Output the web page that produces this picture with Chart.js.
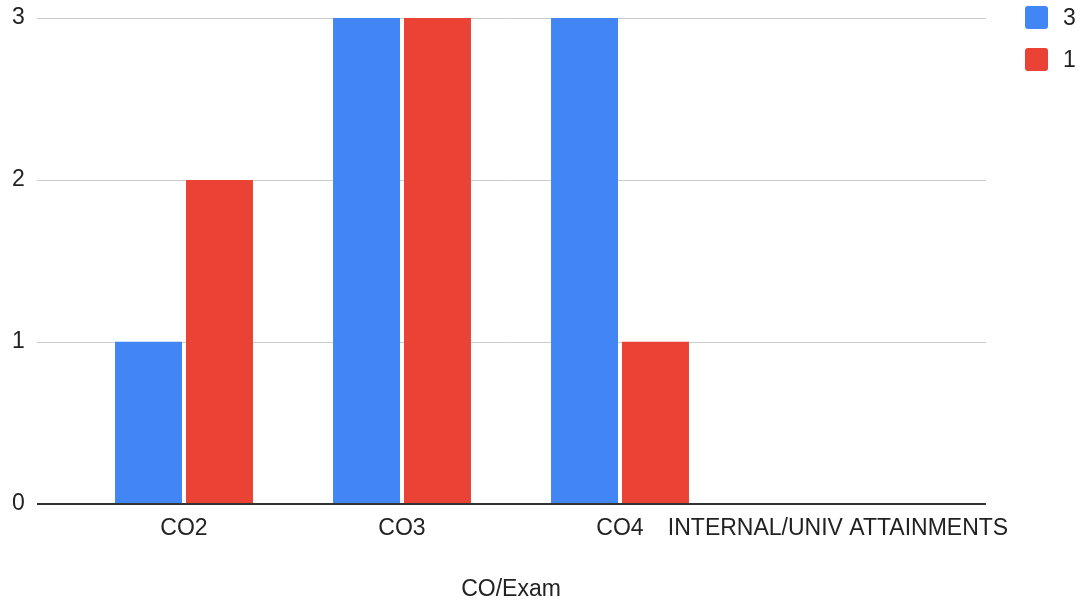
<!DOCTYPE html>
<html>
<head>
<meta charset="utf-8">
<script src="https://cdn.jsdelivr.net/npm/chart.js@4/dist/chart.umd.min.js"></script>
<style>
  html, body { margin: 0; padding: 0; background: #fff; }
  #wrap { width: 1086px; height: 604px; }
</style>
</head>
<body>
<div id="wrap"><canvas id="c" width="1086" height="604"></canvas></div>
<script>
const categories = ['CO2', 'CO3', 'CO4', 'INTERNAL/UNIV ATTAINMENTS'];
const series3 = [1, 3, 3, null];
const series1 = [2, 3, 1, null];
const seriesNames = ['3', '1'];
const yTicks = [0, 1, 2, 3];

const FONT = '"Liberation Sans", Arial, sans-serif';

// grid lines stick out past the category band, like the sheets chart does
const gridLines = {
    id: 'gridLines',
    beforeDatasetsDraw(chart) {
        const { ctx, chartArea, scales } = chart;
        const x0 = chartArea.left - 38, x1 = chartArea.right + 39;
        ctx.save();
        yTicks.forEach(v => {
            const y = Math.round(scales.y.getPixelForValue(v));
            if (v === 0) return;
            ctx.strokeStyle = '#cccccc';
            ctx.lineWidth = 1;
            ctx.beginPath();
            ctx.moveTo(x0, y + 0.5);
            ctx.lineTo(x1, y + 0.5);
            ctx.stroke();
        });
        ctx.restore();
    },
    afterDatasetsDraw(chart) {
        const { ctx, chartArea, scales } = chart;
        const y = Math.round(scales.y.getPixelForValue(0));
        ctx.save();
        ctx.strokeStyle = '#333333';
        ctx.lineWidth = 2;
        ctx.beginPath();
        ctx.moveTo(chartArea.left - 38, y);
        ctx.lineTo(chartArea.right + 39, y);
        ctx.stroke();
        ctx.restore();
    }
};

// legend drawn by hand in the top right corner
const sideLegend = {
    id: 'sideLegend',
    afterDraw(chart) {
        const { ctx } = chart;
        ctx.save();
        chart.data.datasets.forEach((ds, i) => {
            const top = 6 + i * 42;
            ctx.fillStyle = ds.backgroundColor;
            ctx.beginPath();
            ctx.roundRect(1025, top, 23, 23, 3);
            ctx.fill();
            ctx.fillStyle = '#222222';
            ctx.font = '23px ' + FONT;
            ctx.textBaseline = 'middle';
            ctx.textAlign = 'left';
            ctx.fillText(ds.label, 1063, top + 13);
        });
        ctx.restore();
    }
};

new Chart(document.getElementById('c').getContext('2d'), {
    type: 'bar',
    data: {
        labels: categories,
        datasets: [
            { label: seriesNames[0], data: series3, backgroundColor: '#4285F4' },
            { label: seriesNames[1], data: series1, backgroundColor: '#EA4335' }
        ]
    },
    options: {
        responsive: false,
        animation: false,
        layout: { padding: { left: 12, right: 139, top: 18, bottom: 1 } },
        datasets: { bar: { categoryPercentage: 0.651, barPercentage: 0.944 } },
        plugins: {
            legend: { display: false },
            tooltip: { enabled: false }
        },
        scales: {
            x: {
                grid: { display: false, drawTicks: false },
                border: { display: false },
                ticks: { color: '#222', font: { family: FONT, size: 23 }, padding: 11, maxRotation: 0, autoSkip: false },
                title: { display: true, text: 'CO/Exam', color: '#222', font: { family: FONT, size: 23 }, padding: { top: 22, bottom: 0 } }
            },
            y: {
                min: 0, max: 3,
                afterFit(scale) { scale.width = 63; },
                grid: { display: false, drawTicks: false },
                border: { display: false },
                ticks: { stepSize: 1, color: '#222', font: { family: FONT, size: 23 }, padding: 0, crossAlign: 'far' }
            }
        }
    },
    plugins: [gridLines, sideLegend]
});
</script>
</body>
</html>
